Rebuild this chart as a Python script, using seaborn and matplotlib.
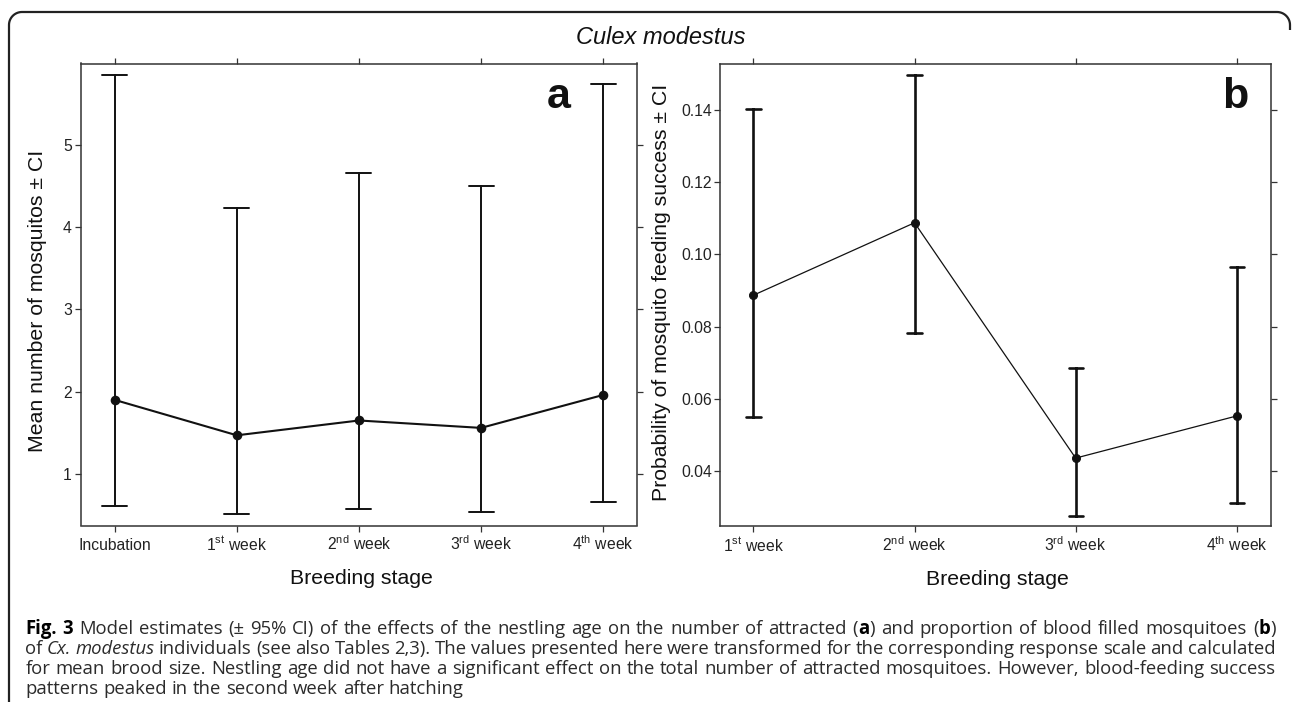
import re
import matplotlib
matplotlib.use("Agg")
import matplotlib.pyplot as plt
import numpy as np
import pandas as pd
import seaborn as sns

# ---------------- data ----------------
stages_a = ["Incubation", "1st week", "2nd week", "3rd week", "4th week"]
ticklabels_a = ["Incubation", r"1$^{\rm st}$ week", r"2$^{\rm nd}$ week",
                r"3$^{\rm rd}$ week", r"4$^{\rm th}$ week"]
mean_a = [1.90, 1.47, 1.65, 1.56, 1.96]
lower_a = [0.615, 0.51, 0.58, 0.54, 0.66]
upper_a = [5.85, 4.23, 4.66, 4.50, 5.74]

stages_b = ["1st week", "2nd week", "3rd week", "4th week"]
ticklabels_b = [r"1$^{\rm st}$ week", r"2$^{\rm nd}$ week",
                r"3$^{\rm rd}$ week", r"4$^{\rm th}$ week"]
mean_b = [0.0887, 0.1088, 0.0435, 0.0552]
lower_b = [0.0548, 0.0782, 0.0274, 0.0310]
upper_b = [0.1404, 0.1497, 0.0685, 0.0966]

yticks_a = [1, 2, 3, 4, 5]
yticks_b = [0.04, 0.06, 0.08, 0.10, 0.12, 0.14]

title = "Culex modestus"
xlabel = "Breeding stage"
ylabel_a = "Mean number of mosquitos \u00b1 CI"
ylabel_b = "Probability of mosquito feeding success \u00b1 CI"

caption_lines = [
    "**Fig.** **3** Model estimates (\u00b1 95% CI) of the effects of the nestling age on the number of attracted (**a**) and proportion of blood filled mosquitoes (**b**)",
    "of _Cx._ _modestus_ individuals (see also Tables 2,3). The values presented here were transformed for the corresponding response scale and calculated",
    "for mean brood size. Nestling age did not have a significant effect on the total number of attracted mosquitoes. However, blood-feeding success",
    "patterns peaked in the second week after hatching",
]

# ---------------- style ----------------
sns.set_style("ticks")
plt.rcParams["font.family"] = ["Liberation Sans", "DejaVu Sans"]
plt.rcParams["mathtext.fontset"] = "custom"
plt.rcParams["mathtext.rm"] = "Liberation Sans"
plt.rcParams["mathtext.it"] = "Liberation Sans:italic"
plt.rcParams["mathtext.bf"] = "Liberation Sans:bold"

W, H = 1293, 702
fig = plt.figure(figsize=(W / 100, H / 100), dpi=100)
fig.patch.set_facecolor("white")

# overlay axes in pixel coordinates (frame + caption)
ov = fig.add_axes([0, 0, 1, 1])
ov.set_xlim(0, W)
ov.set_ylim(H, 0)
ov.axis("off")
ov.set_zorder(0)

# rounded frame (left, top and top-right corner)
r = 13
t = np.linspace(np.pi, 1.5 * np.pi, 20)
xs = [9, 9] + list(9 + r + r * np.cos(t)) + [W - 3 - r]
ys = [H + 5, 12 + r] + list(12 + r + r * np.sin(t)) + [12]
t2 = np.linspace(1.5 * np.pi, 2 * np.pi, 20)
xs += list(W - 3 - r + r * np.cos(t2)) + [W - 3, W - 3]
ys += list(12 + r + r * np.sin(t2)) + [12 + r, 30]
ov.plot(xs, ys, color="#222222", lw=1.6, solid_capstyle="butt", clip_on=False)


def make_df(stages, lo, mid, hi):
    rows = []
    for s, a, b, c in zip(stages, lo, mid, hi):
        for v in (a, b, c):
            rows.append({"stage": s, "value": v})
    return pd.DataFrame(rows)


df_a = make_df(stages_a, lower_a, mean_a, upper_a)
df_b = make_df(stages_b, lower_b, mean_b, upper_b)

spine_col = "#333333"

# ---------------- panel a ----------------
axa = fig.add_axes([80.8 / W, 1 - 525.5 / H, 556.3 / W, 462 / H])
axa.set_zorder(1)
sns.pointplot(data=df_a, x="stage", y="value", order=stages_a,
              estimator="median", errorbar=("pi", 100), capsize=0.205,
              color="#111111", markersize=5.8, linewidth=1.5,
              err_kws={"linewidth": 1.4}, ax=axa)
axa.set_xlim(-0.278, 4.278)
axa.set_ylim(0.3745, 5.986)
axa.set_yticks(yticks_a)
axa.set_yticklabels([str(v) for v in yticks_a])
axa.set_xticks(range(len(stages_a)))
axa.set_xticklabels(ticklabels_a)

# ---------------- panel b ----------------
axb = fig.add_axes([719.6 / W, 1 - 526 / H, 551 / W, 462.5 / H])
axb.set_zorder(1)
sns.pointplot(data=df_b, x="stage", y="value", order=stages_b,
              estimator="median", errorbar=("pi", 100), capsize=0.088,
              color="#111111", markersize=5.8, linewidth=0.9,
              err_kws={"linewidth": 1.9}, ax=axb)
axb.set_xlim(-0.21, 3.21)
axb.set_ylim(0.02466, 0.15299)
axb.set_yticks(yticks_b)
axb.set_yticklabels([f"{v:.2f}" for v in yticks_b])
axb.set_xticks(range(len(stages_b)))
axb.set_xticklabels(ticklabels_b)

for ax, ylab, lx, ly, ypad in ((axa, ylabel_a, -0.0787, 0.486, 2.0),
                               (axb, ylabel_b, -0.105, 0.506, 0.8)):
    for sp in ax.spines.values():
        sp.set_visible(True)
        sp.set_color(spine_col)
        sp.set_linewidth(1.1)
    ax.tick_params(axis="both", which="both", direction="out",
                   top=True, right=True, length=4.5, width=0.9,
                   color=spine_col, labelsize=11.3, labelcolor="#222222")
    ax.tick_params(axis="y", pad=ypad)
    # baseline-aligned x tick labels (baseline ~25 px below the axis)
    ax.tick_params(axis="x", pad=(550.5 - 525.5) * 0.72 - 4.5)
    for lbl in ax.get_xticklabels():
        lbl.set_va("baseline")
    ax.set_xlabel(xlabel, fontsize=15.3, color="#111111")
    ax.xaxis.set_label_coords(0.5046, (525.5 - 584) / 462)
    ax.xaxis.label.set_va("baseline")
    ax.set_ylabel(ylab, fontsize=15.3, color="#111111", va="center")
    ax.yaxis.set_label_coords(lx, ly)
    ax.grid(False)

# title and panel letters
fig.text(661 / W, 1 - 37 / H, title, style="italic", fontsize=17,
         ha="center", va="center", color="#111111")
fig.text(571 / W, 1 - 108 / H, "a", fontsize=31, weight="bold",
         ha="right", va="baseline", color="#111111")
fig.text(1248 / W, 1 - 108 / H, "b", fontsize=31, weight="bold",
         ha="right", va="baseline", color="#111111")

# ---------------- caption (justified) ----------------
renderer = fig.canvas.get_renderer()
cap_font = ["Open Sans", "DejaVu Sans"]
cap_col = "#2b2b2b"


def parse_word(word):
    segs = []
    for part in re.split(r"(\*\*.*?\*\*|_.*?_)", word):
        if not part:
            continue
        if part.startswith("**"):
            segs.append((part[2:-2], {"weight": "bold", "color": "#000000"}))
        elif part.startswith("_") and part.endswith("_") and len(part) > 1:
            segs.append((part[1:-1], {"style": "italic", "color": cap_col}))
        else:
            segs.append((part, {"color": cap_col}))
    return segs


def build_line(line, yb, fs):
    words = [parse_word(w) for w in line.split(" ")]
    arts = []
    for w in words:
        segs = []
        for txt, kw in w:
            tt = ov.text(0, yb, txt, fontsize=fs, family=cap_font,
                         ha="left", va="baseline", **kw)
            segs.append(tt)
        arts.append(segs)
    widths = [[s.get_window_extent(renderer).width for s in segs] for segs in arts]
    return arts, widths


x_left, x_right = 25.5, 1275.5
baselines = [634, 654, 674, 694]

# choose the caption size so that the first line fits with natural spacing
fs0 = 11.0
arts, widths = build_line(caption_lines[0], baselines[0], fs0)
natural = sum(sum(ws) for ws in widths) + (len(arts) - 1) * fs0 * 100 / 72 * 0.26
for segs in arts:
    for s in segs:
        s.remove()
cap_fs = fs0 * (x_right - x_left) / natural * 0.985
space_nat = cap_fs * 100 / 72 * 0.26

for li, (line, yb) in enumerate(zip(caption_lines, baselines)):
    arts, widths = build_line(line, yb, cap_fs)
    total = sum(sum(ws) for ws in widths)
    last = li == len(caption_lines) - 1
    if last or len(arts) < 2:
        gap = space_nat
    else:
        gap = (x_right - x_left - total) / (len(arts) - 1)
    x = x_left
    for segs, ws in zip(arts, widths):
        for s, wd in zip(segs, ws):
            s.set_x(x)
            x += wd
        x += gap

fig.savefig("out.png", dpi=100, facecolor="white")
